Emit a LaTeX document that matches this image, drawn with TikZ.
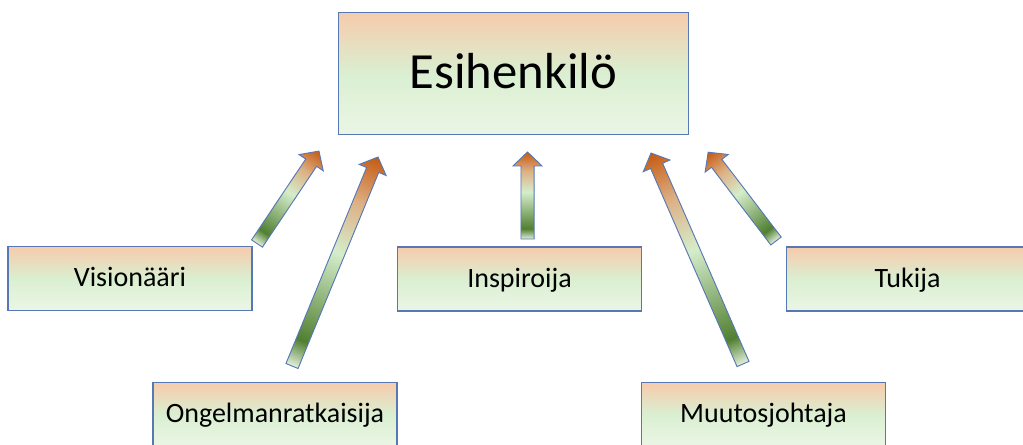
\documentclass[tikz,border=0pt]{standalone}
\usepackage{fontspec}
\setmainfont{Carlito}
\usepackage{xcolor}
\usepackage{tikz}
\definecolor{ldline}{HTML}{5878B4}
\definecolor{ldpeach}{HTML}{F6CBAC}
\definecolor{ldgreen}{HTML}{DAEFD1}
\definecolor{ldmint}{HTML}{EBF6E6}
\definecolor{ldpale}{HTML}{E4F1DC}
\definecolor{lddark}{HTML}{507F31}
\definecolor{ldlight}{HTML}{D5EDCB}
\definecolor{ldtan}{HTML}{DDB085}
\definecolor{ldorange}{HTML}{C55A11}
\pgfdeclarehorizontalshading{ldarrowshade}{100bp}{color(0bp)=(ldpale); color(25bp)=(ldpale); color(31bp)=(lddark); color(52bp)=(ldlight); color(64bp)=(ldtan); color(75bp)=(ldorange); color(100bp)=(ldorange)}
\tikzset{
  ldnode/.style={
    rectangle, draw=ldline, line width=0.9pt,
    top color=ldpeach, bottom color=ldmint, middle color=ldgreen,
    minimum width=183pt, minimum height=48pt,
    text height=14pt, text depth=2pt,
    align=center, inner sep=0pt, font=\fontsize{21}{25}\selectfont
  },
  ldroot/.style={ldnode, minimum width=262pt, minimum height=92pt,
    text height=26pt, text depth=3.4pt, font=\fontsize{38}{45}\selectfont},
  ldarrow/.style={shade, shading=ldarrowshade, draw=ldline, line width=0.7pt, line join=miter},
}
% block arrow between two named points
\newcommand{\ldblockarrow}[2]{%
  \path (#1); \pgfgetlastxy{\ldax}{\lday}%
  \path (#2); \pgfgetlastxy{\ldbx}{\ldby}%
  \pgfmathsetmacro{\ldang}{atan2(\ldby-\lday,\ldbx-\ldax)}%
  \pgfmathsetmacro{\ldlen}{veclen(\ldbx-\ldax,\ldby-\lday)}%
  \begin{scope}[transform canvas={shift={(\ldax,\lday)},rotate=\ldang}]
    \path[ldarrow] (0pt,-4.9pt) -- (\ldlen pt-10.5pt,-4.9pt) -- (\ldlen pt-10.5pt,-10.9pt)
      -- (\ldlen pt,0pt) -- (\ldlen pt-10.5pt,10.9pt) -- (\ldlen pt-10.5pt,4.9pt) -- (0pt,4.9pt) -- cycle;
  \end{scope}}

\begin{document}
\begin{tikzpicture}[x=0.75pt, y=-0.75pt]
  \useasboundingbox (0,0) rectangle (1023,445);
  \clip (0,0) rectangle (1023,445);
  \node (n0) [ldroot] at (513.5,73.5) {Esihenkilö};
  \node (n1) [ldnode] at (130,278.5) {Visionääri};
  \node (n2) [ldnode] at (275,414.5) {Ongelmanratkaisija};
  \node (n3) [ldnode] at (519.5,279) {Inspiroija};
  \node (n4) [ldnode] at (763.5,414.5) {Muutosjohtaja};
  \node (n5) [ldnode, minimum width=181pt] at (907.5,279) {Tukija};
  % arrow ends
  \coordinate (t1) at (257,243.5); \coordinate (h1) at (319,151);
  \coordinate (t2) at (292,366);   \coordinate (h2) at (378,157);
  \coordinate (t3) at (527.5,239); \coordinate (h3) at (527.5,152);
  \coordinate (t4) at (743,364);   \coordinate (h4) at (651,153);
  \coordinate (t5) at (776,241);   \coordinate (h5) at (708,152);
  \ldblockarrow{t1}{h1} \ldblockarrow{t2}{h2} \ldblockarrow{t3}{h3}
  \ldblockarrow{t4}{h4} \ldblockarrow{t5}{h5}
\end{tikzpicture}
\end{document}
